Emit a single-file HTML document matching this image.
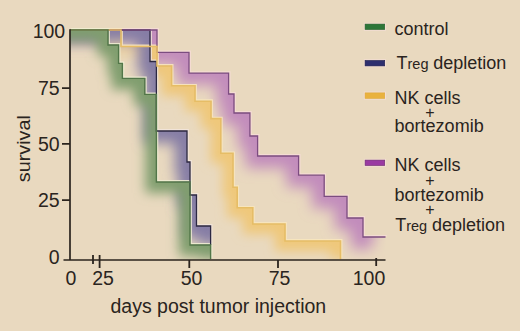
<!DOCTYPE html>
<html><head><meta charset="utf-8"><style>
html,body{margin:0;padding:0;}
body{width:520px;height:331px;overflow:hidden;background:#e9d9bf;}
svg{display:block;}
text{font-family:"Liberation Sans",sans-serif;fill:#2a2420;}
</style></head><body>
<svg width="520" height="331" viewBox="0 0 520 331">
<defs><clipPath id="cp"><polygon points="70,30 157,30 157,52.4 189,52.4 189,73.1 228.6,73.1 228.6,94 234,94 234,113 249.9,113 249.9,136 257.6,136 257.6,156 298.6,156 298.6,175.2 324.2,175.2 324.2,196.3 347,196.3 347,218 363,218 363,237 385.5,237 385.5,260 70,260"/></clipPath><filter id="fp" x="-20%" y="-20%" width="140%" height="140%"><feGaussianBlur stdDeviation="7"/></filter><clipPath id="cy"><polygon points="70,30 121,30 121,46.5 157,46.5 157,66 171.6,66 171.6,85.8 195,85.8 195,101.2 211,101.2 211,118.6 220.8,118.6 220.8,153.3 233,153.3 233,187.2 237.2,187.2 237.2,207.8 252.8,207.8 252.8,224 285,224 285,241 340.5,241 340.5,259 340.5,260 70,260"/></clipPath><filter id="fy" x="-20%" y="-20%" width="140%" height="140%"><feGaussianBlur stdDeviation="5.5"/></filter><clipPath id="cb"><polygon points="70,30 150,30 150,61.5 156.4,61.5 156.4,131 187,131 187,162 190,162 190,195 196.5,195 196.5,226 210.6,226 210.6,245 210.6,260 70,260"/></clipPath><filter id="fb" x="-20%" y="-20%" width="140%" height="140%"><feGaussianBlur stdDeviation="6.5"/></filter><clipPath id="cg"><polygon points="70,30 108,30 108,45 118.6,45 118.6,63.4 122.4,63.4 122.4,78.4 144.8,78.4 144.8,94.4 156.4,94.4 156.4,182 190,182 190,245 210.6,245 210.6,259 210.6,260 70,260"/></clipPath><filter id="fg" x="-20%" y="-20%" width="140%" height="140%"><feGaussianBlur stdDeviation="6"/></filter></defs>
<rect width="520" height="331" fill="#e9d9bf"/>
<g clip-path="url(#cp)"><polyline points="45,30 157,30 157,52.4 189,52.4 189,73.1 228.6,73.1 228.6,94 234,94 234,113 249.9,113 249.9,136 257.6,136 257.6,156 298.6,156 298.6,175.2 324.2,175.2 324.2,196.3 347,196.3 347,218 363,218 363,237 372,237" fill="none" stroke="#c088bc" stroke-width="24" stroke-opacity="0.95" filter="url(#fp)"/></g><g clip-path="url(#cy)"><polyline points="45,30 121,30 121,46.5 157,46.5 157,66 171.6,66 171.6,85.8 195,85.8 195,101.2 211,101.2 211,118.6 220.8,118.6 220.8,153.3 233,153.3 233,187.2 237.2,187.2 237.2,207.8 252.8,207.8 252.8,224 285,224 285,241 340.5,241 340.5,259" fill="none" stroke="#efc87a" stroke-width="20" stroke-opacity="1.0" filter="url(#fy)"/></g><polygon points="70,30 150,30 150,61.5 156.4,61.5 156.4,131 187,131 187,162 190,162 190,195 196.5,195 196.5,226 210.6,226 210.6,245 210.6,260 70,260" fill="#e9d9bf" fill-opacity="0.6"/><g clip-path="url(#cb)"><polyline points="45,30 150,30 150,61.5 156.4,61.5 156.4,131 187,131 187,162 190,162 190,195 196.5,195 196.5,226 210.6,226 210.6,245" fill="none" stroke="#857da5" stroke-width="24" stroke-opacity="1.0" filter="url(#fb)"/></g><g clip-path="url(#cg)"><polyline points="45,30 108,30 108,45 118.6,45 118.6,63.4 122.4,63.4 122.4,78.4 144.8,78.4 144.8,94.4 156.4,94.4 156.4,182 190,182 190,245 210.6,245 210.6,259" fill="none" stroke="#809e6e" stroke-width="22" stroke-opacity="1.0" filter="url(#fg)"/></g><polyline points="71.2,28.8 151.2,28.8 151.2,60.3 157.6,60.3 157.6,129.8 188.2,129.8 188.2,160.8 191.2,160.8 191.2,193.8 197.7,193.8 197.7,224.8 211.79999999999998,224.8 211.79999999999998,243.8" fill="none" stroke="#f2e4dc" stroke-width="1.4" stroke-opacity="0.9"/><polyline points="71.2,28.8 158.2,28.8 158.2,51.199999999999996 190.2,51.199999999999996 190.2,71.89999999999999 229.79999999999998,71.89999999999999 229.79999999999998,92.8 235.2,92.8 235.2,111.8 251.1,111.8 251.1,134.8 258.8,134.8 258.8,154.8 299.8,154.8 299.8,174.0 325.4,174.0 325.4,195.10000000000002 348.2,195.10000000000002 348.2,216.8 364.2,216.8 364.2,235.8 386.7,235.8" fill="none" stroke="#f6dcd6" stroke-width="1.4" stroke-opacity="0.9"/><polyline points="71.2,28.8 122.2,28.8 122.2,45.3 158.2,45.3 158.2,64.8 172.79999999999998,64.8 172.79999999999998,84.6 196.2,84.6 196.2,100.0 212.2,100.0 212.2,117.39999999999999 222.0,117.39999999999999 222.0,152.10000000000002 234.2,152.10000000000002 234.2,186.0 238.39999999999998,186.0 238.39999999999998,206.60000000000002 254.0,206.60000000000002 254.0,222.8 286.2,222.8 286.2,239.8 341.7,239.8 341.7,257.8" fill="none" stroke="#f8e6bc" stroke-width="1.4" stroke-opacity="0.9"/><polyline points="71.2,28.8 109.2,28.8 109.2,43.8 119.8,43.8 119.8,62.199999999999996 123.60000000000001,62.199999999999996 123.60000000000001,77.2 146.0,77.2 146.0,93.2 157.6,93.2 157.6,180.8 191.2,180.8 191.2,243.8 211.79999999999998,243.8 211.79999999999998,257.8" fill="none" stroke="#eeedd2" stroke-width="1.4" stroke-opacity="0.9"/><polyline points="70,30 150,30 150,61.5 156.4,61.5 156.4,131 187,131 187,162 190,162 190,195 196.5,195 196.5,226 210.6,226 210.6,245" fill="none" stroke="#2c2842" stroke-width="1.3" stroke-linejoin="miter"/><polyline points="70,30 157,30 157,52.4 189,52.4 189,73.1 228.6,73.1 228.6,94 234,94 234,113 249.9,113 249.9,136 257.6,136 257.6,156 298.6,156 298.6,175.2 324.2,175.2 324.2,196.3 347,196.3 347,218 363,218 363,237 385.5,237" fill="none" stroke="#7c4c80" stroke-width="1.3" stroke-linejoin="miter"/><polyline points="70,30 121,30 121,46.5 157,46.5 157,66 171.6,66 171.6,85.8 195,85.8 195,101.2 211,101.2 211,118.6 220.8,118.6 220.8,153.3 233,153.3 233,187.2 237.2,187.2 237.2,207.8 252.8,207.8 252.8,224 285,224 285,241 340.5,241 340.5,259" fill="none" stroke="#e6bd66" stroke-width="1.6" stroke-linejoin="miter"/><polyline points="70,30 108,30 108,45 118.6,45 118.6,63.4 122.4,63.4 122.4,78.4 144.8,78.4 144.8,94.4 156.4,94.4 156.4,182 190,182 190,245 210.6,245 210.6,259" fill="none" stroke="#527648" stroke-width="1.4" stroke-linejoin="miter"/>

<path d="M70,29.2 V260 M63.5,260 H385.5" stroke="#2b241e" stroke-width="1.7" fill="none"/>
<path d="M62,88.2 H70 M62,143.8 H70 M62,200.2 H70" stroke="#2b241e" stroke-width="1.8"/>
<path d="M93,255 V264 M99.6,255 V268 M189.3,260 V268 M278,260 V268 M376.2,258 V266" stroke="#2b241e" stroke-width="1.8"/>

<text x="65.2" y="37.7" font-size="19.5" text-anchor="end" >100</text><text x="59.6" y="94.6" font-size="19.5" text-anchor="end" >75</text><text x="59.6" y="150.8" font-size="19.5" text-anchor="end" >50</text><text x="59.6" y="207.3" font-size="19.5" text-anchor="end" >25</text><text x="59.6" y="264" font-size="19.5" text-anchor="end" >0</text><text x="71" y="285" font-size="19.5" text-anchor="middle" >0</text><text x="103" y="285" font-size="19.5" text-anchor="middle" >25</text><text x="191.5" y="285" font-size="19.5" text-anchor="middle" >50</text><text x="279.5" y="285" font-size="19.5" text-anchor="middle" >75</text><text x="369" y="285" font-size="19.5" text-anchor="middle" >100</text><text x="110.5" y="312.5" font-size="19.5" text-anchor="start" >days post tumor injection</text><text transform="translate(30.3,182.2) rotate(-90)" font-size="18.5" textLength="67" lengthAdjust="spacingAndGlyphs">survival</text>
<rect x="364.3" y="23.3" width="21.2" height="7" fill="none" stroke="#f6e0dc" stroke-width="1" stroke-opacity="0.7"/><rect x="365.1" y="24.1" width="19.6" height="5.4" fill="#2d7638" stroke="#245f2e" stroke-width="0.6"/><rect x="364.3" y="59.7" width="21.2" height="7" fill="none" stroke="#f6e0dc" stroke-width="1" stroke-opacity="0.7"/><rect x="365.1" y="60.5" width="19.6" height="5.4" fill="#2e2f6e" stroke="#1f2050" stroke-width="0.6"/><rect x="364.3" y="92.1" width="21.2" height="7" fill="none" stroke="#f6e0dc" stroke-width="1" stroke-opacity="0.7"/><rect x="365.1" y="92.89999999999999" width="19.6" height="5.4" fill="#e9b23e" stroke="#e0a838" stroke-width="0.6"/><rect x="364.3" y="159.3" width="21.2" height="7" fill="none" stroke="#f6e0dc" stroke-width="1" stroke-opacity="0.7"/><rect x="365.1" y="160.10000000000002" width="19.6" height="5.4" fill="#9a3aa2" stroke="#6e2c74" stroke-width="0.6"/><text x="394.6" y="34.6" font-size="18" text-anchor="start" >control</text><text x="396.5" y="68.9" font-size="18">T<tspan font-size="14.5">reg</tspan><tspan x="433.3">depletion</tspan></text><text x="394.6" y="103.5" font-size="18" text-anchor="start" >NK cells</text><text x="429.9" y="118" font-size="16" text-anchor="middle" >+</text><text x="394.6" y="132.1" font-size="18" text-anchor="start" >bortezomib</text><text x="394.6" y="171.2" font-size="18" text-anchor="start" >NK cells</text><text x="429.9" y="185.9" font-size="16" text-anchor="middle" >+</text><text x="394.6" y="200.7" font-size="18" text-anchor="start" >bortezomib</text><text x="429.9" y="214.9" font-size="16" text-anchor="middle" >+</text><text x="395.2" y="230.7" font-size="18">T<tspan font-size="14.5">reg</tspan><tspan x="432.0">depletion</tspan></text>
</svg>
</body></html>
